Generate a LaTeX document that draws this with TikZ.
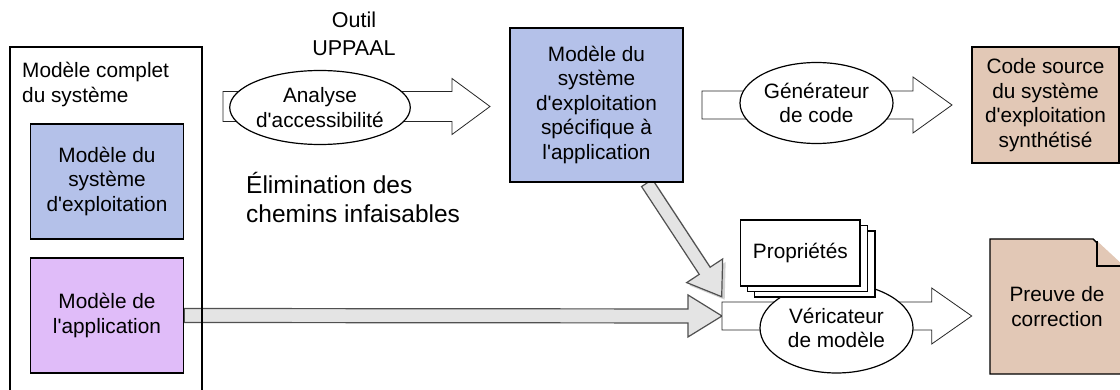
\documentclass[tikz,border=0pt]{standalone}
\usepackage{fontspec}
\setmainfont{Liberation Sans}[Ligatures=TeXOff]
\usetikzlibrary{calc,shadows,shapes.geometric}
\definecolor{osblue}{RGB}{180,193,233}
\definecolor{apppurple}{RGB}{224,188,249}
\definecolor{srcbrown}{RGB}{226,200,182}
\definecolor{arrgray}{RGB}{228,228,228}
\definecolor{arredge}{RGB}{80,80,80}
\newcommand\fatarrow[7]{% #1 style, #2 prefix, #3 start, #4 tip, #5 half shaft, #6 half head, #7 head length
  \coordinate (#2h) at ($(#4)!#7!(#3)$);
  \draw[#1] ($(#3)!#5!90:(#4)$) -- ($(#2h)!#5!-90:(#3)$) -- ($(#2h)!#6!-90:(#3)$) -- (#4)
    -- ($(#2h)!#6!90:(#3)$) -- ($(#2h)!#5!90:(#3)$) -- ($(#3)!#5!-90:(#4)$) -- cycle;
}
\tikzset{
  txt/.style={font=\fontsize{20.8}{24.5}\selectfont, align=center, inner sep=0pt},
  bigtxt/.style={font=\fontsize{24.5}{29}\selectfont, align=left, inner sep=0pt},
  boxnode/.style={txt, draw=black, line width=1.4pt, rectangle},
  ellnode/.style={txt, draw=black, line width=1.2pt, fill=white, ellipse, inner sep=0pt},
  hollow/.style={draw=black!85, line width=0.8pt, fill=white},
  grayarrow/.style={draw=arredge, line width=1.2pt, fill=arrgray, line join=miter},
  sheet/.style={draw=black, line width=1.4pt, fill=white},
}
\begin{document}
\begin{tikzpicture}[x=1pt,y=-1pt]
\clip (0,0) rectangle (1120,390);
\fill[white] (0,0) rectangle (1120,390);

% gray horizontal arrow (application model -> checker)
\node[boxnode, fill=apppurple, minimum width=153pt, minimum height=115pt] (app) at (107,315.5) {Modèle de\\l'application};
\coordinate (chkin) at (722,316);
\fatarrow{grayarrow}{ga}{app.east}{chkin}{7pt}{21pt}{34pt}

% outer box
\draw[black, line width=1.4pt] (10,400) -- (10,47) -- (202,47) -- (202,400);
\node[txt, align=left, anchor=north west] (complet) at (22,62) {Modèle complet\\du système};
\node[boxnode, fill=osblue, minimum width=153pt, minimum height=115pt] (os) at (107,181.5) {Modèle du\\système\\d'exploitation};
\node[boxnode, fill=apppurple, minimum width=153pt, minimum height=115pt] at (app) {Modèle de\\l'application};

% arrow 1 : reachability analysis
\coordinate (a1s) at (223,106.5);
\coordinate (a1t) at (490,106.5);
\fatarrow{hollow}{aa}{a1s}{a1t}{15pt}{28pt}{38pt}
\node[ellnode, minimum width=156pt, minimum height=74pt] (reach) at (320,107.5) {Analyse\\d'accessibilité};
\node[txt, font=\fontsize{21.5}{28}\selectfont] (uppaal) at (354,34) {Outil\\UPPAAL};
\node[bigtxt, anchor=west] (elim) at (246,197) {Élimination des\\chemins infaisables};

% diagonal gray arrow (specific OS model -> checker)
\coordinate (dgs) at (647,183);
\coordinate (dgt) at (721.7,296.7);
\fatarrow{grayarrow, drop shadow={opacity=0.35, shadow xshift=3pt, shadow yshift=-3pt}}{gd}{dgs}{dgt}{6.5pt}{21.5pt}{31pt}

% specific OS model
\node[boxnode, fill=osblue, minimum width=173pt, minimum height=154pt] (spec) at (596.5,105) {Modèle du\\système\\d'exploitation\\spécifique à\\l'application};

% arrow 2 : code generator
\coordinate (a2s) at (702,105);
\coordinate (a2t) at (952,105);
\fatarrow{hollow}{ab}{a2s}{a2t}{14pt}{28pt}{39pt}
\node[ellnode, minimum width=153pt, minimum height=81pt] (gen) at (816.5,103) {Générateur\\de code};

% source code box
\node[boxnode, fill=srcbrown, minimum width=147pt, minimum height=116pt] (src) at (1045.5,105) {Code source\\du système\\d'exploitation\\synthétisé};

% arrow 3 : model checker
\coordinate (a3t) at (971.7,316);
\fatarrow{hollow}{ac}{chkin}{a3t}{14pt}{28pt}{40pt}
\node[ellnode, minimum width=153pt, minimum height=90pt] (chk) at (836.5,328) {Véricateur\\de modèle};

% properties stack
\draw[sheet] (754.7,231) rectangle (875,297);
\draw[sheet] (747.7,225.5) rectangle (867.5,291.5);
\node[txt, sheet, minimum width=119.3pt, minimum height=66pt] (prop) at (800.35,253) {Propriétés};

% proof document
\draw[black, line width=1.4pt, fill=srcbrown] (990,239) -- (1093,239) [rounded corners=3pt] -- (1124,270) [sharp corners] -- (1124,374) -- (990,374) -- cycle;
\node[txt] (proof) at (1057,306.5) {Preuve de\\correction};
\draw[black, line width=1.4pt, fill=srcbrown] (1097,241) -- (1097,266) -- (1124,266);
\end{tikzpicture}
\end{document}
